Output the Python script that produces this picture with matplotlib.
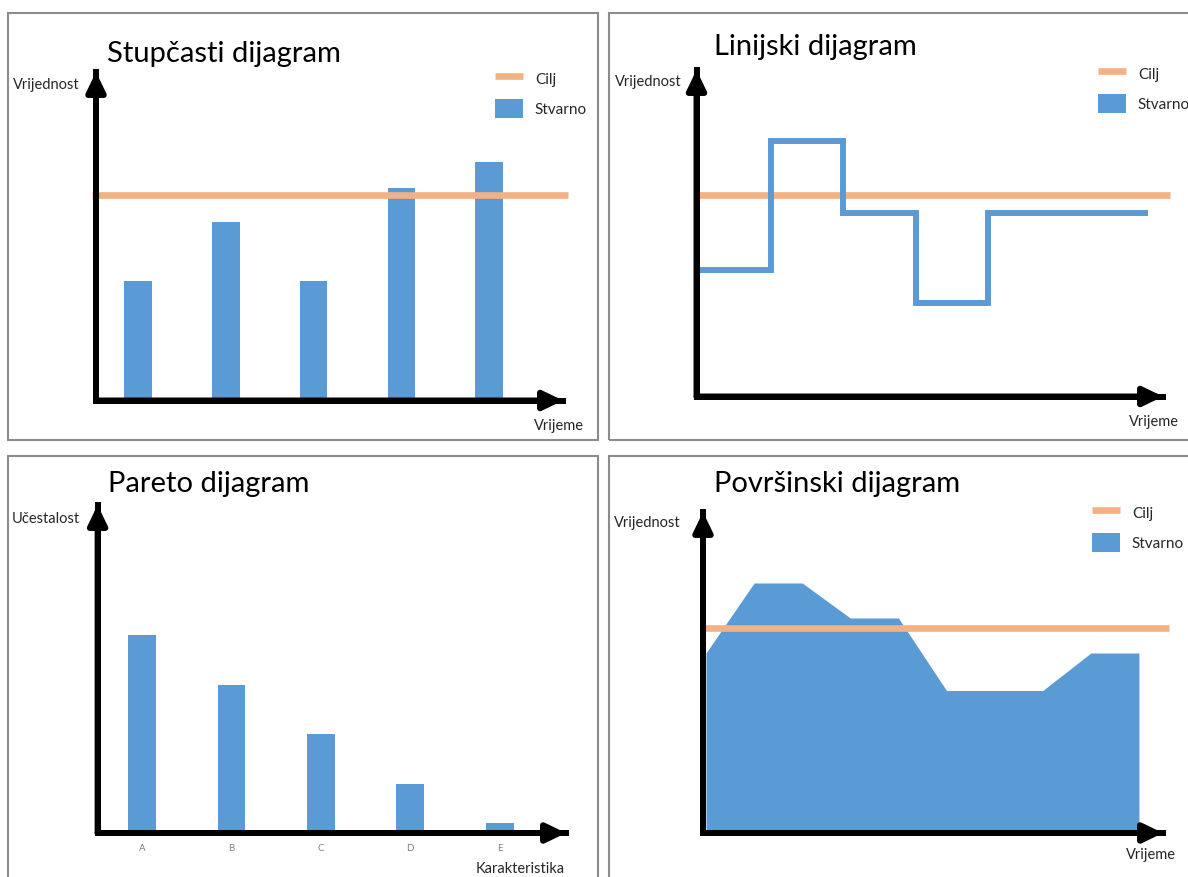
import matplotlib
matplotlib.use('Agg')
import matplotlib.pyplot as plt
from matplotlib.patches import Rectangle, Patch

W, H = 1188, 878
plt.rcParams['font.family'] = ['Lato', 'DejaVu Sans']

ORANGE = '#F4B183'
BLUE = '#5B9BD5'
TXT = '#262626'

# --- data ---
bar_cats = [0, 1, 2, 3, 4]
bar_vals = [40, 59.5, 40, 71, 79.5]
bar_target = 68.6

line_t = [0, 1, 2, 3, 4, 6.2]
line_vals = [42, 85, 61, 31, 61, 61]
line_target = 67

pareto_cats = ['A', 'B', 'C', 'D', 'E']
pareto_vals = [40, 30, 20, 10, 2]

area_t = [0, 1, 2, 3, 4, 5, 6, 7, 8, 9]
area_vals = [72, 100, 100, 86, 86, 57, 57, 57, 72, 72]
area_target = 82

fig = plt.figure(figsize=(W / 100, H / 100), dpi=100)
fig.patch.set_facecolor('white')


def fx(x):
    return x / W


def fy(y):
    return 1 - y / H


def make_ax(x0, x1, y0, y1):
    # pixel box -> axes
    ax = fig.add_axes([fx(x0), fy(y1), (x1 - x0) / W, (y1 - y0) / H])
    ax.patch.set_alpha(0)
    for s in ['top', 'right']:
        ax.spines[s].set_visible(False)
    for s in ['left', 'bottom']:
        ax.spines[s].set_linewidth(4.3)
        ax.spines[s].set_color('black')
        ax.spines[s].set_capstyle('projecting')
        ax.spines[s].set_zorder(5)
    ax.set_xticks([])
    ax.set_yticks([])
    arrow = dict(arrowstyle='-|>,head_length=0.58,head_width=0.28', lw=4.3,
                 color='black', shrinkA=0, shrinkB=0, mutation_scale=20)
    ax.annotate('', xy=(1, 0), xytext=(0, 0), xycoords='axes fraction',
                textcoords='axes fraction', arrowprops=arrow, zorder=6)
    ax.annotate('', xy=(0, 1), xytext=(0, 0), xycoords='axes fraction',
                textcoords='axes fraction', arrowprops=arrow, zorder=6)
    return ax


def border(x0, x1, y0, y1):
    fig.add_artist(Rectangle((fx(x0), fy(y1)), (x1 - x0) / W, (y1 - y0) / H,
                             transform=fig.transFigure, fill=False,
                             edgecolor='#8c8c8c', lw=1.5))


def label(x, y, s, **kw):
    fig.text(fx(x), fy(y), s, color=TXT, fontsize=10.5, ha='right', va='center', **kw)


def title(x, y, s):
    fig.text(fx(x), fy(y), s, color='black', fontsize=21, ha='left', va='baseline')


def legend(ax, handles, x, y):
    ax.legend(handles, ['Cilj', 'Stvarno'], loc='upper left',
              bbox_to_anchor=(fx(x), fy(y)), bbox_transform=fig.transFigure,
              frameon=False, borderpad=0, borderaxespad=0, fontsize=11,
              handlelength=1.83, handleheight=1.53, handletextpad=0.78,
              labelspacing=0.75, labelcolor=TXT)


border(8, 598, 14, 441)
border(609, 1200, 14, 441)
border(8, 598, 457, 890)
border(609, 1200, 457, 890)

# Stupcasti dijagram
ax1 = make_ax(96, 563, 73, 401.5)
bars1 = ax1.bar(bar_cats, bar_vals, width=0.314, color=BLUE, zorder=2)
tl1 = ax1.axhline(bar_target, xmin=-0.008, xmax=1.01, color=ORANGE, lw=4.8,
                  solid_capstyle='butt', clip_on=False, zorder=3)
ax1.set_xlim(-0.478, 4.84)
ax1.set_ylim(0, 109.5)
legend(ax1, [tl1, bars1], 495, 69.5)
title(107, 62, 'Stupčasti dijagram')
label(80, 85, 'Vrijednost')
label(584, 426, 'Vrijeme')

# Linijski dijagram
ax2 = make_ax(696.5, 1163, 71, 397.5)
tl2 = ax2.axhline(line_target, xmin=0, xmax=1.016, color=ORANGE, lw=4.8,
                  solid_capstyle='butt', clip_on=False, zorder=2)
ax2.plot(line_t, line_vals, drawstyle='steps-post', color=BLUE, lw=4.3,
         solid_joinstyle='miter', solid_capstyle='butt', zorder=3)
ax2.set_xlim(-0.02, 6.41)
ax2.set_ylim(0, 108.8)
legend(ax2, [tl2, Patch(facecolor=BLUE)], 1098, 64.5)
title(714, 55, 'Linijski dijagram')
label(682, 82, 'Vrijednost')
label(1179, 422, 'Vrijeme')

# Pareto dijagram
ax3 = make_ax(97.6, 566, 506, 834)
ax3.bar(range(len(pareto_cats)), pareto_vals, width=0.31, color=BLUE, zorder=2)
ax3.set_xlim(-0.496, 4.74)
ax3.set_ylim(0, 66.3)
ax3.set_xticks(range(len(pareto_cats)))
ax3.set_xticklabels(pareto_cats, fontsize=7, color='#808080')
ax3.tick_params(axis='x', length=0, pad=7)
title(108, 492, 'Pareto dijagram')
label(80, 519, 'Učestalost')
label(565, 869, 'Karakteristika')

# Povrsinski dijagram
ax4 = make_ax(703, 1163, 513, 834)
area = ax4.fill_between(area_t, area_vals, color=BLUE, lw=0, zorder=2)
tl4 = ax4.axhline(area_target, xmin=0, xmax=1.013, color=ORANGE, lw=4.8,
                  solid_capstyle='butt', clip_on=False, zorder=3)
ax4.set_xlim(-0.062, 9.5)
ax4.set_ylim(0, 128.4)
legend(ax4, [tl4, area], 1092, 503.5)
title(714, 492, 'Površinski dijagram')
label(681, 523, 'Vrijednost')
label(1176, 855, 'Vrijeme')

fig.savefig('out.png', dpi=100, facecolor='white')
